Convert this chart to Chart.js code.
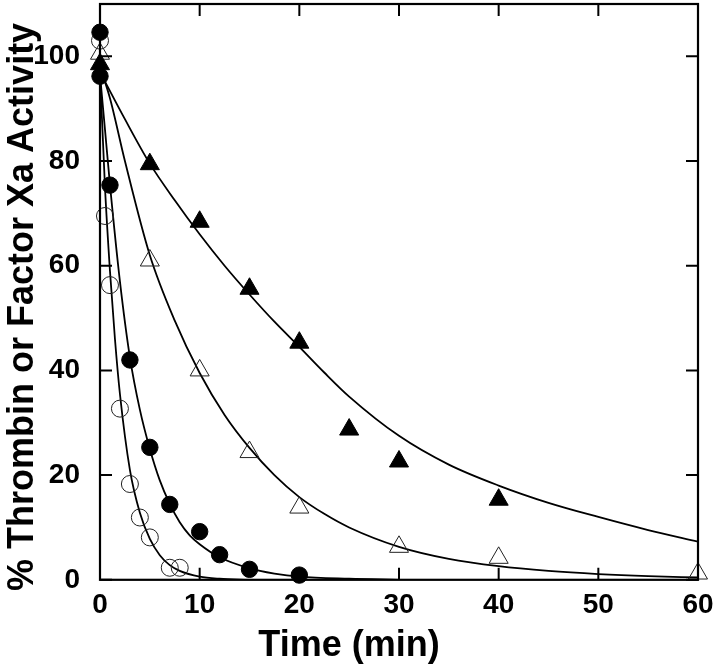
<!DOCTYPE html>
<html>
<head>
<meta charset="utf-8">
<script src="https://cdn.jsdelivr.net/npm/chart.js@4.4.0/dist/chart.umd.min.js"></script>
<style>
  html, body { margin: 0; padding: 0; background: #fff; }
</style>
</head>
<body>
<canvas id="chart" width="720" height="670"></canvas>
<script>
// tick labels
const xTicks = [0, 10, 20, 30, 40, 50, 60];
const yTicks = [0, 20, 40, 60, 80, 100];

// measured points (time in min, % activity)
const filledTriTime = [0, 5, 10, 15, 20, 25, 30, 40];
const filledTriActivity = [98.5, 79.4, 68.4, 55.6, 45.3, 28.7, 22.6, 15.3];
const openTriTime = [0, 5, 10, 15, 20, 30, 40, 60];
const openTriActivity = [100.5, 61, 40, 24.4, 13.8, 6.3, 4.2, 1.2];
const filledCircTime = [0, 0, 1, 3, 5, 7, 10, 12, 15, 20];
const filledCircActivity = [104.6, 96.2, 75.4, 42, 25.3, 14.4, 9.2, 4.8, 2.0, 0.9];
const openCircTime = [0, 0.5, 1, 2, 3, 4, 5, 7, 8];
const openCircActivity = [103, 69.5, 56.3, 32.7, 18.3, 11.9, 8.1, 2.3, 2.3];

// fitted curves
const curveATime = [0, 2.5, 5, 7.5, 10, 12.5, 15, 17.5, 20, 22.5, 25, 30, 35, 40, 45, 50, 55, 60];
const curveAActivity = [97, 88, 79.5, 72.5, 66, 60, 54.5, 49.3, 44.5, 39.6, 35, 27.5, 22, 18, 14.7, 12, 9.5, 7.3];
const curveBTime = [0, 1, 2.5, 5, 7.5, 10, 12.5, 15, 17.5, 20, 22.5, 25, 30, 35, 40, 45, 50, 55, 60];
const curveBActivity = [98, 92, 80, 62, 49.5, 39.5, 31.5, 25.2, 20, 15.8, 12.6, 10, 6.3, 4, 2.6, 1.7, 1.1, 0.7, 0.45];
const curveCTime = [0, 0.5, 1, 2, 3, 4, 5, 6, 7, 8, 9, 10, 12, 15, 17.5, 20, 25, 30];
const curveCActivity = [96.5, 86, 75.5, 57, 42.5, 32.5, 25, 19, 14.5, 11, 8.5, 6.8, 4.3, 2.2, 1.2, 0.6, 0.2, 0];
const curveDTime = [0, 0.5, 1, 1.5, 2, 3, 4, 5, 6, 7, 8, 10, 12, 15];
const curveDActivity = [97, 75, 59, 46, 35.5, 21, 12.8, 7.8, 4.7, 2.8, 1.7, 0.6, 0.2, 0];

const pts = (xs, ys) => xs.map((x, i) => ({ x: x, y: ys[i] }));

function markerSet(xs, ys, style, filled, radius) {
  return {
    data: pts(xs, ys),
    showLine: false,
    pointStyle: style,
    pointRadius: radius,
    pointHoverRadius: radius,
    pointBackgroundColor: filled ? "#000" : "rgba(0,0,0,0)",
    pointBorderColor: filled ? "#000" : "#222",
    pointBorderWidth: 1,
    clip: false,
  };
}

function curveSet(xs, ys) {
  return {
    data: pts(xs, ys),
    showLine: true,
    borderColor: "#000",
    borderWidth: 1.8,
    pointRadius: 0,
    cubicInterpolationMode: "monotone",
    fill: false,
  };
}

// frame and inward tick marks on all four sides
const framePlugin = {
  id: "frame",
  afterDatasetsDraw(chart) {
    const { ctx, chartArea: a, scales } = chart;
    const len = 12;
    ctx.save();
    ctx.strokeStyle = "#000";
    ctx.lineWidth = 2;
    xTicks.forEach((v) => {
      const px = scales.x.getPixelForValue(v);
      ctx.beginPath();
      ctx.moveTo(px, a.bottom);
      ctx.lineTo(px, a.bottom - len);
      ctx.moveTo(px, a.top);
      ctx.lineTo(px, a.top + len);
      ctx.stroke();
    });
    yTicks.forEach((v) => {
      const py = scales.y.getPixelForValue(v);
      ctx.beginPath();
      ctx.moveTo(a.left, py);
      ctx.lineTo(a.left + len, py);
      ctx.moveTo(a.right, py);
      ctx.lineTo(a.right - len, py);
      ctx.stroke();
    });
    ctx.lineWidth = 2.2;
    ctx.strokeRect(a.left, a.top, a.right - a.left, a.bottom - a.top);
    ctx.restore();
  },
};

const tickFont = { family: "'Liberation Sans', Arial, sans-serif", size: 28, weight: "bold" };
const titleFont = { family: "'Liberation Sans', Arial, sans-serif", size: 36, weight: "bold" };

new Chart(document.getElementById("chart"), {
  type: "scatter",
  data: {
    datasets: [
      markerSet(filledCircTime, filledCircActivity, "circle", true, 8.2),
      markerSet(openCircTime, openCircActivity, "circle", false, 8.5),
      markerSet(filledTriTime, filledTriActivity, "triangle", true, 11),
      markerSet(openTriTime, openTriActivity, "triangle", false, 11),
      curveSet(curveATime, curveAActivity),
      curveSet(curveBTime, curveBActivity),
      curveSet(curveCTime, curveCActivity),
      curveSet(curveDTime, curveDActivity),
    ],
  },
  options: {
    responsive: false,
    animation: false,
    layout: { autoPadding: false, padding: { top: 4, right: 22, left: 0, bottom: 0 } },
    plugins: {
      legend: { display: false },
      tooltip: { enabled: false },
      title: {
        display: true,
        position: "bottom",
        text: "Time (min)",
        color: "#000",
        font: titleFont,
        padding: { top: 0, bottom: 2 },
      },
    },
    scales: {
      x: {
        type: "linear",
        min: 0,
        max: 60,
        afterBuildTicks: (s) => { s.ticks = xTicks.map((v) => ({ value: v })); },
        afterFit: (s) => { s.height = 45; s.paddingLeft = 0; s.paddingRight = 0; },
        grid: { display: false },
        border: { display: false },
        ticks: { color: "#000", font: tickFont, padding: 1, maxRotation: 0 },
      },
      y: {
        type: "linear",
        min: 0,
        max: 110,
        afterBuildTicks: (s) => { s.ticks = yTicks.map((v) => ({ value: v })); },
        afterFit: (s) => { s.width = 100; s.paddingTop = 0; s.paddingBottom = 0; },
        grid: { display: false },
        border: { display: false },
        ticks: { color: "#000", font: tickFont, padding: 12 },
        title: {
          display: true,
          text: "% Thrombin or Factor Xa Activity   ",
          color: "#000",
          font: titleFont,
          padding: { top: 1, bottom: 0 },
        },
      },
    },
  },
  plugins: [framePlugin],
});
</script>
</body>
</html>
